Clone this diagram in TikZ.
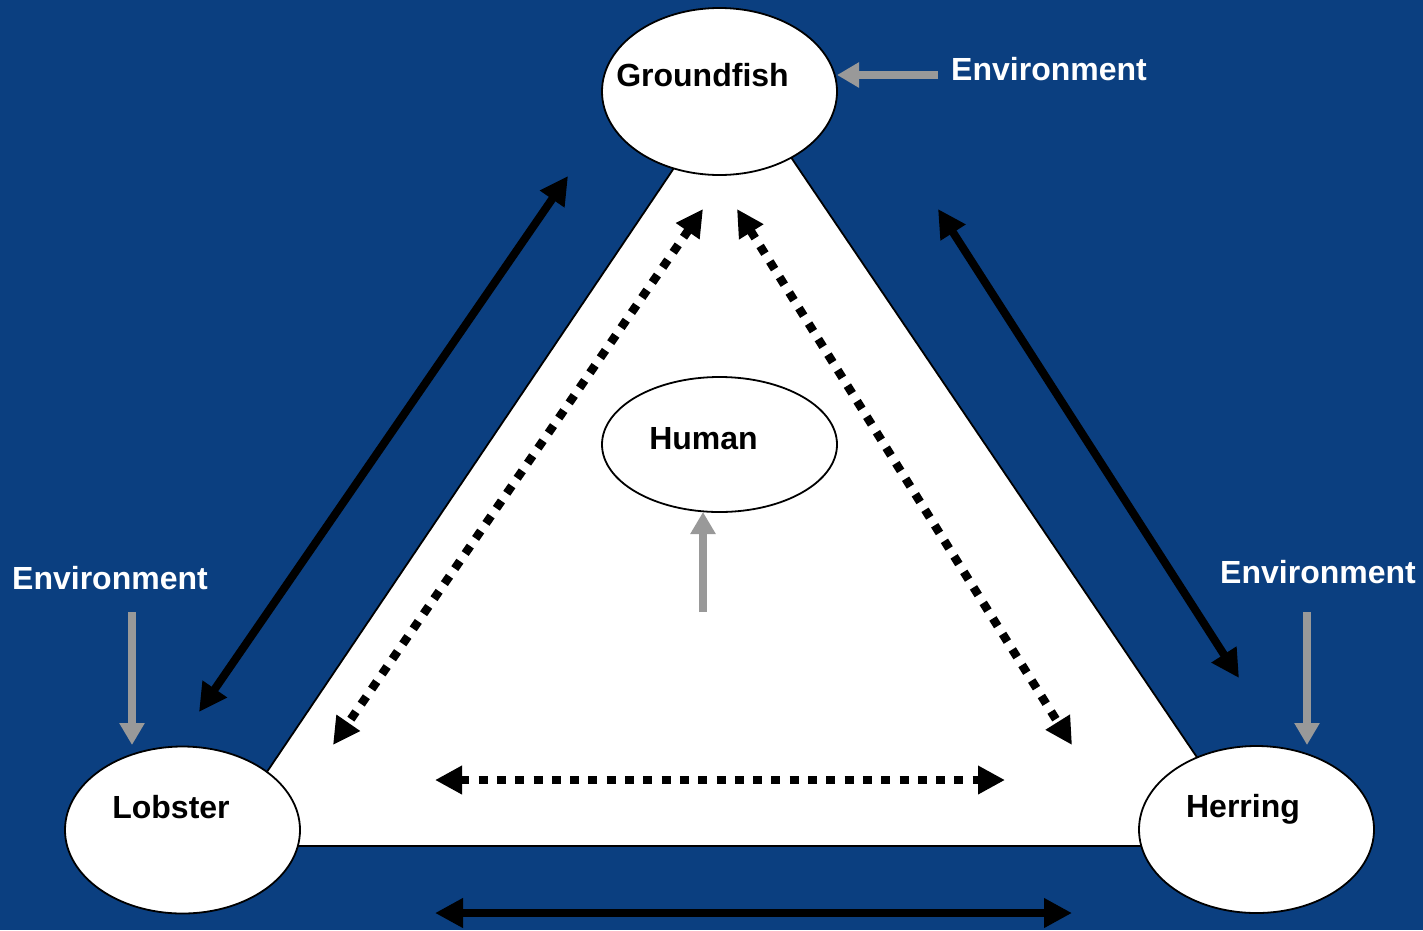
\documentclass[tikz,border=0pt]{standalone}
\usepackage{fontspec}
\setmainfont{Liberation Sans}
\usetikzlibrary{arrows.meta,shapes.geometric}
\definecolor{seablue}{RGB}{11,63,128}
\definecolor{envgray}{RGB}{153,153,153}
\begin{document}
\begin{tikzpicture}[x=1pt,y=-1pt,
  species/.style={ellipse,draw=black,line width=1.8pt,fill=white,
    minimum width=235pt,minimum height=167pt,inner sep=0pt},
  humanbox/.style={species,minimum height=135pt},
  lbl/.style={font=\fontsize{32}{36}\selectfont\bfseries,text=black,inner sep=0pt,anchor=base},
  envlbl/.style={lbl,text=white},
  link/.style={line width=8pt,black,
    {Triangle[length=28pt,width=28pt]}-{Triangle[length=28pt,width=28pt]}},
  dotlink/.style={line width=8.5pt,black,line cap=butt,dash pattern=on 9pt off 9.3pt,
    {Triangle[length=27pt,width=27pt]}-{Triangle[length=27pt,width=27pt]}},
  envarrow/.style={line width=8pt,envgray,-{Triangle[length=22pt,width=24pt]}}]

% background
\fill[seablue] (0,0) rectangle (1423,930);
\useasboundingbox (0,0) rectangle (1423,930);

% white triangle of interactions
\coordinate (tl) at (217,846);
\coordinate (tr) at (1257,846);
\coordinate (tt) at (736,76);
\filldraw[fill=white,draw=black,line width=1.8pt] (tl) -- (tr) -- (tt) -- cycle;

% species and human nodes
\node[species] (groundfish) at (719.5,91.5) {};
\node[species] (lobster) at (182.5,830) {};
\node[species] (herring) at (1256.5,829.5) {};
\node[humanbox] (human) at (719.5,444.5) {};

\node[lbl] (gftext) at (702.5,86) {Groundfish};
\node[lbl] (lbtext) at (171,818) {Lobster};
\node[lbl] (hrtext) at (1243,817) {Herring};
\node[lbl] (hutext) at (703.5,449) {Human};

% environment labels
\node[envlbl] (envtop) at (1049,80) {Environment};
\node[envlbl] (envleft) at (110,589) {Environment};
\node[envlbl] (envright) at (1318,583) {Environment};

% end points of the connectors
\coordinate (gl1) at (568,176);
\coordinate (gl2) at (199,712);
\coordinate (gr1) at (938,209);
\coordinate (gr2) at (1239,678);
\coordinate (lh1) at (435,913);
\coordinate (lh2) at (1072,913);

\coordinate (dl1) at (703,209);
\coordinate (dl2) at (333,745);
\coordinate (dr1) at (737,209);
\coordinate (dr2) at (1072,745);
\coordinate (db1) at (435,780);
\coordinate (db2) at (1005,780);

\coordinate (etop1) at (938,75);
\coordinate (etop2) at (837,75);
\coordinate (eleft1) at (132,612);
\coordinate (eleft2) at (132,745);
\coordinate (eright1) at (1307,612);
\coordinate (eright2) at (1307,745);
\coordinate (ehum1) at (703,612);
\coordinate (ehum2) at (703,512);

% species interactions
\draw[link] (gl1) -- (gl2);
\draw[link] (gr1) -- (gr2);
\draw[link] (lh1) -- (lh2);

% human-mediated interactions
\draw[dotlink] (dl1) -- (dl2);
\draw[dotlink] (dr1) -- (dr2);
\draw[dotlink] (db1) -- (db2);

% environmental forcing
\draw[envarrow] (etop1) -- (etop2);
\draw[envarrow] (eleft1) -- (eleft2);
\draw[envarrow] (eright1) -- (eright2);
\draw[envarrow] (ehum1) -- (ehum2);
\end{tikzpicture}
\end{document}
